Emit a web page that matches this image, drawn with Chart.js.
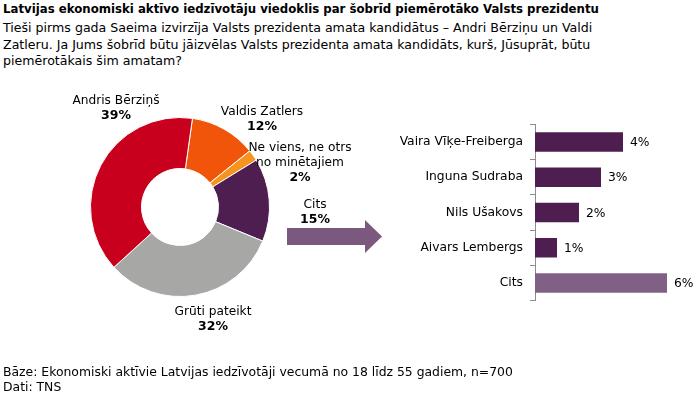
<!DOCTYPE html>
<html>
<head>
<meta charset="utf-8">
<script src="https://cdn.jsdelivr.net/npm/chart.js@4"></script>
<style>
  html, body { margin:0; padding:0; background:#fff; }
  body { width:700px; height:398px; position:relative; overflow:hidden; font-family:"DejaVu Sans", sans-serif; color:#000; }
  .title { position:absolute; left:3px; top:2px; font-size:11.75px; font-weight:bold; white-space:nowrap; }
  .sub { position:absolute; left:3px; top:20px; font-size:12.6px; line-height:16.5px; white-space:nowrap; }
  .foot { position:absolute; left:3px; top:364px; font-size:12.4px; line-height:15px; white-space:nowrap; }
  #pie { position:absolute; left:0; top:0; }
  #bars { position:absolute; left:380px; top:110px; }
  .arrow { position:absolute; left:287px; top:220px; width:95px; height:33px; background:#7b587e;
           clip-path: polygon(0 8px, 78px 8px, 78px 0, 95px 16.5px, 78px 33px, 78px 25px, 0 25px); }
</style>
</head>
<body>
<div class="title">Latvijas ekonomiski aktīvo iedzīvotāju viedoklis par šobrīd piemērotāko Valsts prezidentu</div>
<div class="sub">Tieši pirms gada Saeima izvirzīja Valsts prezidenta amata kandidātus – Andri Bērziņu un Valdi<br>Zatleru. Ja Jums šobrīd būtu jāizvēlas Valsts prezidenta amata kandidāts, kurš, Jūsuprāt, būtu<br>piemērotākais šim amatam?</div>
<canvas id="pie" width="700" height="398"></canvas>
<div class="arrow"></div>
<canvas id="bars" width="320" height="205"></canvas>
<div class="foot">Bāze: Ekonomiski aktīvie Latvijas iedzīvotāji vecumā no 18 līdz 55 gadiem, n=700<br>Dati: TNS</div>
<script>
// doughnut, clockwise from just right of 12 o'clock
const SLICE_LABELS = ['Valdis Zatlers', 'Ne viens, ne otrs\nno minētajiem', 'Cits', 'Grūti pateikt', 'Andris Bērziņš'];
const SLICE_VALUES = [12, 2, 15, 32, 39];
const SLICE_COLORS = ['#f0550a', '#f7941e', '#4e1e51', '#a7a8a6', '#c8001e'];
// label anchor relative to doughnut centre (px), first text line
const LABEL_POS = [[82, -95], [120, -59], [135, -2], [33, 105], [-64, -106]];

const BAR_LABELS = ['Vaira Vīķe-Freiberga', 'Inguna Sudraba', 'Nils Ušakovs', 'Aivars Lembergs', 'Cits'];
const BAR_VALUES = [4, 3, 2, 1, 6];
const BAR_COLORS = ['#4e1e51', '#4e1e51', '#4e1e51', '#4e1e51', '#806085'];

const FONT = '"DejaVu Sans", sans-serif';

const sliceLabels = {
  id: 'sliceLabels',
  afterDraw(c) {
    const { ctx } = c;
    const arc = c.getDatasetMeta(0).data[0];
    if (!arc) return;
    ctx.save();
    ctx.fillStyle = '#000';
    ctx.textAlign = 'center';
    ctx.textBaseline = 'middle';
    SLICE_LABELS.forEach((lab, i) => {
      const [dx, dy] = LABEL_POS[i];
      let y = arc.y + dy;
      ctx.font = '12.2px ' + FONT;
      lab.split('\n').forEach(line => { ctx.fillText(line, arc.x + dx, y); y += 14.5; });
      ctx.font = 'bold 12.5px ' + FONT;
      ctx.fillText(SLICE_VALUES[i] + '%', arc.x + dx, y + 0.5);
    });
    ctx.restore();
  }
};

new Chart(document.getElementById('pie'), {
  type: 'doughnut',
  data: {
    labels: SLICE_LABELS,
    datasets: [{ data: SLICE_VALUES, backgroundColor: SLICE_COLORS, borderColor: '#fff', borderWidth: 1 }]
  },
  options: {
    responsive: false,
    animation: false,
    rotation: 8,
    cutout: '43%',
    layout: { padding: { left: 90, right: 430, top: 117, bottom: 101 } },
    plugins: { legend: { display: false }, tooltip: { enabled: false } }
  },
  plugins: [sliceLabels]
});

const barValues = {
  id: 'barValues',
  afterDatasetsDraw(c) {
    const { ctx } = c;
    ctx.save();
    ctx.fillStyle = '#000';
    ctx.font = '12.3px ' + FONT;
    ctx.textBaseline = 'middle';
    c.getDatasetMeta(0).data.forEach((bar, i) => {
      ctx.fillText(BAR_VALUES[i] + '%', bar.x + 7, bar.y + 1);
    });
    ctx.restore();
  }
};

new Chart(document.getElementById('bars'), {
  type: 'bar',
  data: {
    labels: BAR_LABELS,
    datasets: [{ data: BAR_VALUES, backgroundColor: BAR_COLORS, categoryPercentage: 1, barPercentage: 0.55 }]
  },
  options: {
    indexAxis: 'y',
    responsive: false,
    animation: false,
    layout: { padding: { top: 12, bottom: 10, right: 11, left: 0 } },
    scales: {
      x: { display: false, min: 0, max: 7 },
      y: {
        afterFit(s) { s.width = 155; },
        border: { display: true, color: '#8c8c8c', width: 1 },
        grid: { drawOnChartArea: false, drawTicks: true, tickLength: 5, color: '#8c8c8c' },
        ticks: { color: '#000', padding: 7, font: { family: FONT, size: 12.3 } }
      }
    },
    plugins: { legend: { display: false }, tooltip: { enabled: false } }
  },
  plugins: [barValues]
});
</script>
</body>
</html>
